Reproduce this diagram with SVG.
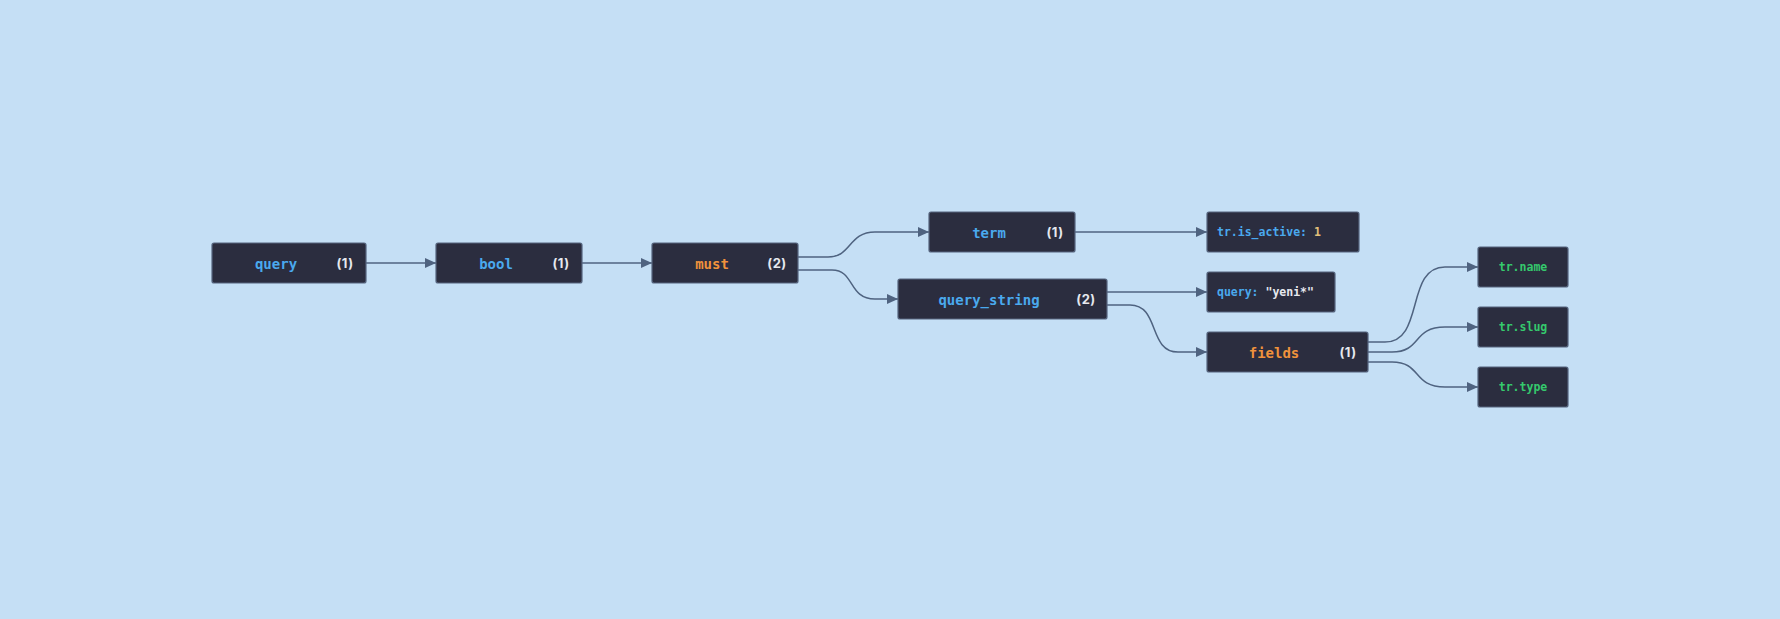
<svg xmlns="http://www.w3.org/2000/svg" width="1780" height="619" viewBox="0 0 1780 619">
<defs>
<style>
.node rect{fill:#2b2d3f;stroke:#56657f;stroke-width:1.2}
.k{font-family:"DejaVu Sans Mono","Liberation Mono",monospace;font-weight:bold;font-size:14px;text-anchor:middle}
.l{font-family:"DejaVu Sans Mono","Liberation Mono",monospace;font-weight:bold;font-size:11.5px}
.c{font-family:Inter,"Noto Sans",sans-serif;font-weight:bold;font-size:13px;fill:#e6e8ee;text-anchor:middle;letter-spacing:0.5px}
.blue{fill:#4aa9ee}
.orange{fill:#f0923c}
.green{fill:#35c96d}
.gold{fill:#e3c07a}
.white{fill:#e6e8ee}
.edges path{fill:none;stroke:#4f6380;stroke-width:1.5;marker-end:url(#arr)}
</style>
<marker id="arr" markerUnits="userSpaceOnUse" markerWidth="11" markerHeight="10" refX="11" refY="5" orient="auto">
<path d="M0,0 L11,5 L0,10 z" fill="#4f6380"/>
</marker>
</defs>
<rect width="1780" height="619" fill="#c5dff5"/>
<g class="edges">
<path d="M366,263 L436,263"/>
<path d="M582,263 L652,263"/>
<path d="M798,257 L828,257 C852,257 848,232 875,232 L929,232"/>
<path d="M798,270 L832,270 C855,270 848,299 875,299 L898,299"/>
<path d="M1075,232 L1207,232"/>
<path d="M1107,292 L1207,292"/>
<path d="M1107,305 L1130,305 C1160,305 1148,352 1178,352 L1207,352"/>
<path d="M1368,342 L1385,342 C1425,342 1405,267 1445,267 L1478,267"/>
<path d="M1368,352 L1392,352 C1422,352 1412,327 1445,327 L1478,327"/>
<path d="M1368,362 L1392,362 C1422,362 1412,387 1445,387 L1478,387"/>
</g>
<g id="node-query" class="node"><rect x="212" y="243" width="154" height="40" rx="2"/><text class="k blue" x="276" y="269">query</text><text class="c" x="345" y="268">(1)</text></g>
<g id="node-bool" class="node"><rect x="436" y="243" width="146" height="40" rx="2"/><text class="k blue" x="496" y="269">bool</text><text class="c" x="561" y="268">(1)</text></g>
<g id="node-must" class="node"><rect x="652" y="243" width="146" height="40" rx="2"/><text class="k orange" x="712" y="269">must</text><text class="c" x="777" y="268">(2)</text></g>
<g id="node-term" class="node"><rect x="929" y="212" width="146" height="40" rx="2"/><text class="k blue" x="989" y="238">term</text><text class="c" x="1055" y="237">(1)</text></g>
<g id="node-query_string" class="node"><rect x="898" y="279" width="209" height="40" rx="2"/><text class="k blue" x="989" y="305">query_string</text><text class="c" x="1086" y="304">(2)</text></g>
<g id="node-is_active" class="node"><rect x="1207" y="212" width="152" height="40" rx="2"/><text class="l" x="1217" y="235.5"><tspan class="blue">tr.is_active:</tspan><tspan class="gold"> 1</tspan></text></g>
<g id="node-query-value" class="node"><rect x="1207" y="272" width="128" height="40" rx="2"/><text class="l" x="1217" y="295.5"><tspan class="blue">query:</tspan><tspan class="white"> "yeni*"</tspan></text></g>
<g id="node-fields" class="node"><rect x="1207" y="332" width="161" height="40" rx="2"/><text class="k orange" x="1274" y="358">fields</text><text class="c" x="1348" y="357">(1)</text></g>
<g id="node-tr-name" class="node"><rect x="1478" y="247" width="90" height="40" rx="2"/><text class="l green" x="1523" y="271" text-anchor="middle">tr.name</text></g>
<g id="node-tr-slug" class="node"><rect x="1478" y="307" width="90" height="40" rx="2"/><text class="l green" x="1523" y="331" text-anchor="middle">tr.slug</text></g>
<g id="node-tr-type" class="node"><rect x="1478" y="367" width="90" height="40" rx="2"/><text class="l green" x="1523" y="391" text-anchor="middle">tr.type</text></g>
</svg>
